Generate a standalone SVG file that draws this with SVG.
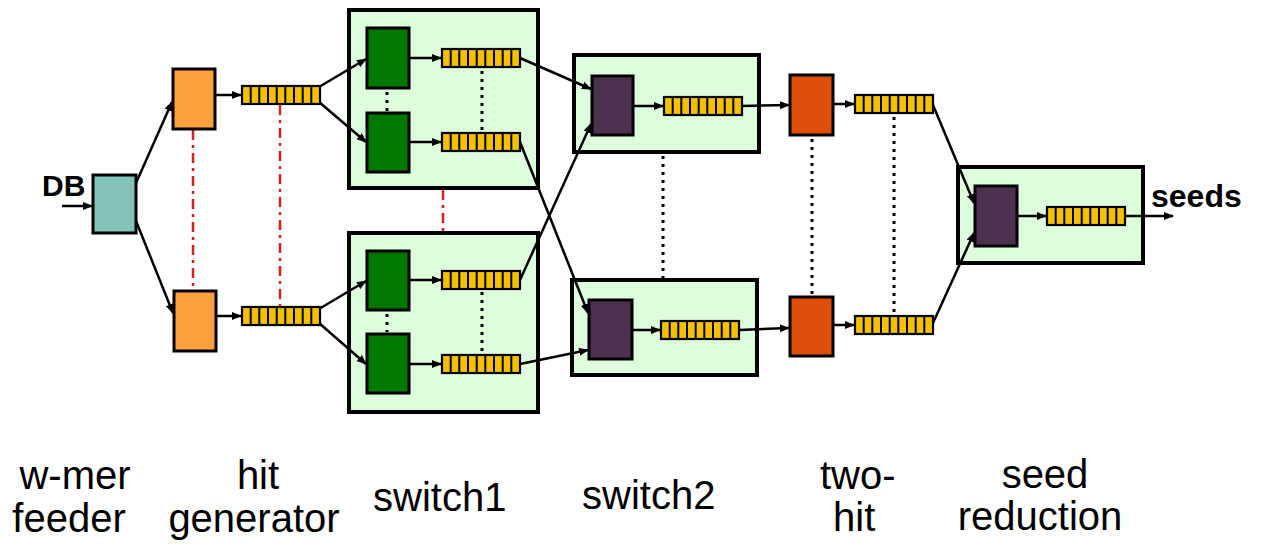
<svg xmlns="http://www.w3.org/2000/svg" xmlns:xlink="http://www.w3.org/1999/xlink" width="1263" height="555" viewBox="0 0 1263 555">
<style>
.box{stroke:#000;stroke-width:3}
.cont{fill:#DDFDDD;stroke:#000;stroke-width:4}
.teal{fill:#84C2B8}
.orange{fill:#FFA040}
.green{fill:#007800}
.purple{fill:#4D3050}
.red{fill:#DE500A}
.conn{stroke:#000;stroke-width:2.5;fill:none}
.arr{marker-end:url(#ah)}
.dot{stroke:#000;stroke-width:3;stroke-dasharray:3 5;fill:none}
.dashdot{stroke:#D42020;stroke-width:2.5;stroke-dasharray:10 5 3 5;fill:none}
.lbl{font-family:"Liberation Sans",Arial,sans-serif;font-size:40px;fill:#000}
.bold{font-family:"Liberation Sans",Arial,sans-serif;font-weight:bold;fill:#000}
</style>
<defs>
<marker id="ah" viewBox="0 0 10 10" refX="9" refY="5" markerWidth="10" markerHeight="10" markerUnits="userSpaceOnUse" orient="auto">
<path d="M0,1 L10,5 L0,9 z" fill="#000"/>
</marker>
<g id="q">
<rect x="0" y="0" width="78" height="18" fill="#F5C000" stroke="#000" stroke-width="2.2"/>
<path d="M8.7 0v18M17.3 0v18M26 0v18M34.7 0v18M43.3 0v18M52 0v18M60.7 0v18M69.3 0v18" stroke="#000" stroke-width="2"/>
</g>
</defs>

<rect width="1263" height="555" fill="#fff"/>

<!-- containers -->
<g id="switch1-top"><rect class="cont" x="349" y="10" width="189" height="178"/></g>
<g id="switch1-bottom"><rect class="cont" x="349" y="233" width="189" height="179"/></g>
<g id="switch2-top"><rect class="cont" x="574" y="55" width="185" height="97"/></g>
<g id="switch2-bottom"><rect class="cont" x="572" y="280" width="185" height="95"/></g>
<g id="seed-reduction-box"><rect class="cont" x="958" y="167" width="185" height="96"/></g>

<!-- guide lines -->
<g id="guides">
<path class="dashdot" d="M193 130V291M280 105V307M443 190V231"/>
<path class="dot" d="M387 92V111M482 71V131M387 314V332M482 292V353M663 156V278M812 139V295M894 117V314"/>
</g>

<!-- connectors -->
<g id="connectors">
<path class="conn arr" d="M62 206H92"/>
<path class="conn arr" d="M136 183L172 102"/>
<path class="conn arr" d="M136 221L173 313"/>
<path class="conn arr" d="M215 95H241"/>
<path class="conn arr" d="M216 316H241"/>
<path class="conn arr" d="M319 87L366 59"/>
<path class="conn arr" d="M319 102L366 142"/>
<path class="conn arr" d="M319 309L366 281"/>
<path class="conn arr" d="M319 323L366 364"/>
<path class="conn arr" d="M409 58H441"/>
<path class="conn arr" d="M409 142H441"/>
<path class="conn arr" d="M409 280H441"/>
<path class="conn arr" d="M409 364H441"/>
<path class="conn arr" d="M520 58L591 89"/>
<path class="conn arr" d="M520 142L588 313"/>
<path class="conn arr" d="M520 280L591 124"/>
<path class="conn arr" d="M520 364L588 350"/>
<path class="conn arr" d="M633 106H663"/>
<path class="conn arr" d="M632 330H660"/>
<path class="conn arr" d="M742 106L789 105"/>
<path class="conn arr" d="M739 330L789 328"/>
<path class="conn arr" d="M833 104H854"/>
<path class="conn arr" d="M833 325H854"/>
<path class="conn arr" d="M933 105L974 203"/>
<path class="conn arr" d="M933 323L974 233"/>
<path class="conn arr" d="M1017 216H1046"/>
<path class="conn arr" d="M1125 216H1173"/>
</g>

<!-- nodes -->
<g id="wmer-feeder"><rect class="box teal" x="93" y="175" width="43" height="58"/></g>
<g id="hitgen-top"><rect class="box orange" x="173" y="69" width="42" height="60"/><use xlink:href="#q" x="242" y="86"/></g>
<g id="hitgen-bottom"><rect class="box orange" x="174" y="291" width="42" height="60"/><use xlink:href="#q" x="242" y="307"/></g>
<g id="sw1-top-a"><rect class="box green" x="367" y="28" width="42" height="60"/><use xlink:href="#q" x="442" y="49"/></g>
<g id="sw1-top-b"><rect class="box green" x="367" y="113" width="42" height="59"/><use xlink:href="#q" x="442" y="133"/></g>
<g id="sw1-bot-a"><rect class="box green" x="367" y="251" width="42" height="59"/><use xlink:href="#q" x="442" y="271"/></g>
<g id="sw1-bot-b"><rect class="box green" x="367" y="334" width="42" height="59"/><use xlink:href="#q" x="442" y="355"/></g>
<g id="sw2-top"><rect class="box purple" x="592" y="76" width="41" height="59"/><use xlink:href="#q" x="664" y="97"/></g>
<g id="sw2-bot"><rect class="box purple" x="589" y="300" width="43" height="59"/><use xlink:href="#q" x="661" y="321"/></g>
<g id="twohit-top"><rect class="box red" x="790" y="75" width="43" height="60"/><use xlink:href="#q" x="855" y="95"/></g>
<g id="twohit-bot"><rect class="box red" x="790" y="297" width="43" height="59"/><use xlink:href="#q" x="855" y="316"/></g>
<g id="seed-red"><rect class="box purple" x="975" y="186" width="42" height="60"/><use xlink:href="#q" x="1047" y="207"/></g>

<!-- texts -->
<g id="labels">
<text class="bold" x="42" y="196" font-size="30">DB</text>
<text class="bold" x="1151" y="207" font-size="32">seeds</text>
<text class="lbl" x="75" y="489" text-anchor="middle">w-mer</text>
<text class="lbl" x="69" y="532" text-anchor="middle">feeder</text>
<text class="lbl" x="258" y="489" text-anchor="middle">hit</text>
<text class="lbl" x="254" y="532" text-anchor="middle">generator</text>
<text class="lbl" x="373" y="511">switch1</text>
<text class="lbl" x="582" y="509">switch2</text>
<text class="lbl" x="820" y="489">two-</text>
<text class="lbl" x="833" y="531">hit</text>
<text class="lbl" x="1045" y="488" text-anchor="middle">seed</text>
<text class="lbl" x="1040" y="530" text-anchor="middle">reduction</text>
</g>
</svg>
